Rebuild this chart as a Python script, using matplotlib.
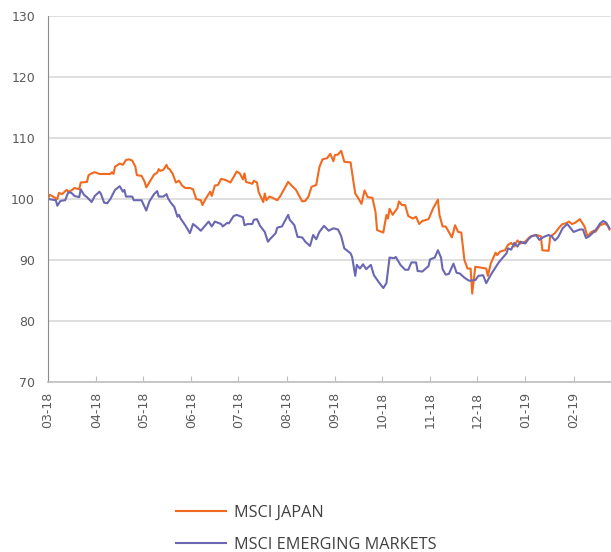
import pandas as pd
import matplotlib
matplotlib.use("Agg")
import matplotlib.pyplot as plt
import matplotlib.dates as mdates

start = pd.Timestamp("2018-03-01")

# days since 1 March 2018, index level (start = 100)
japan_days = [0, 1, 6, 7, 9, 12, 13, 15, 17, 20, 21, 25, 26, 28, 30, 33, 40, 41, 42, 43,
              46, 48, 50, 52, 54, 56, 57, 60, 62, 63, 64, 68, 70, 71, 72, 74, 76, 77, 78, 80,
              82, 84, 86, 88, 91, 93, 95, 98, 99, 101, 104, 105, 107, 109, 111, 114, 117, 121, 123, 125,
              126, 127, 131, 132, 134, 135, 138, 139, 140, 142, 144, 147, 149, 154, 157, 159, 163, 165, 167, 169,
              172, 174, 176, 179, 181, 183, 184, 186, 188, 190, 194, 195, 197, 199, 201, 203, 205, 208, 210, 211,
              215, 217, 218, 219, 221, 224, 225, 227, 229, 231, 234, 236, 238, 240, 244, 247, 250, 251, 253, 255,
              259, 261, 263, 265, 267, 269, 271, 272, 274, 281, 282, 284, 287, 288, 290, 293, 295, 297, 299, 301,
              303, 306, 309, 313, 316, 317, 321, 322, 325, 328, 330, 332, 334, 336, 338, 341, 344, 346, 348, 350,
              351, 354, 357, 359, 360]
japan = [100.0, 100.7, 100.0, 101.0, 100.8, 101.5, 101.2, 101.4, 101.8, 101.6, 102.7, 102.8, 103.9, 104.2, 104.4, 104.1, 104.1, 104.4, 104.1, 105.3,
         105.8, 105.6, 106.4, 106.5, 106.3, 105.3, 103.9, 103.8, 102.8, 101.9, 102.3, 104.0, 104.3, 104.9, 104.6, 104.8, 105.6, 105.0, 104.9, 104.1,
         102.7, 103.0, 102.2, 101.8, 101.8, 101.6, 100.0, 99.8, 99.0, 100.0, 101.2, 100.5, 102.2, 102.3, 103.3, 103.1, 102.7, 104.5, 104.2, 103.2,
         104.2, 102.8, 102.5, 103.0, 102.7, 101.2, 99.5, 100.9, 99.8, 100.4, 100.2, 99.8, 100.5, 102.8, 102.0, 101.5, 99.6, 99.7, 100.4, 102.0,
         102.3, 105.2, 106.5, 106.7, 107.4, 106.2, 107.2, 107.3, 107.9, 106.1, 106.0, 104.3, 100.9, 100.1, 99.2, 101.4, 100.3, 100.2, 97.9, 94.9,
         94.5, 97.4, 96.8, 98.4, 97.4, 98.5, 99.6, 99.0, 99.0, 97.2, 96.8, 97.1, 95.9, 96.4, 96.7, 98.5, 99.9, 97.4, 95.5, 95.5,
         93.7, 95.7, 94.6, 94.5, 90.0, 88.6, 88.6, 84.5, 88.9, 88.6, 87.4, 89.5, 91.2, 90.8, 91.4, 91.6, 92.5, 92.8, 92.2, 93.2,
         92.7, 93.0, 93.8, 94.1, 93.9, 91.6, 91.5, 93.8, 94.4, 95.4, 95.9, 96.0, 96.3, 95.9, 96.1, 96.7, 95.5, 93.8, 94.5, 94.8,
         94.6, 95.7, 96.0, 95.6, 95.0]

em_days = [0, 5, 6, 8, 11, 13, 15, 17, 20, 21, 23, 25, 28, 30, 33, 34, 36, 38, 40, 43,
           46, 48, 49, 50, 54, 55, 60, 63, 65, 68, 70, 71, 74, 76, 77, 79, 81, 83, 84, 85,
           88, 91, 93, 95, 98, 103, 105, 107, 111, 112, 115, 116, 119, 121, 125, 126, 128, 131, 132, 134,
           136, 139, 141, 143, 146, 147, 150, 154, 155, 158, 160, 163, 165, 168, 170, 172, 174, 177, 180, 183,
           186, 188, 190, 194, 195, 197, 198, 200, 202, 204, 207, 209, 212, 215, 217, 219, 222, 223, 226, 229,
           231, 233, 236, 237, 240, 244, 245, 248, 250, 252, 253, 255, 257, 260, 262, 264, 267, 270, 274, 276,
           279, 281, 284, 286, 289, 292, 294, 295, 297, 299, 301, 303, 306, 308, 310, 313, 315, 318, 321, 323,
           325, 327, 330, 333, 337, 341, 343, 345, 347, 350, 352, 354, 356, 358, 360]
em = [100.0, 99.8, 98.9, 99.7, 99.8, 101.1, 101.0, 100.5, 100.3, 101.6, 100.7, 100.3, 99.5, 100.5, 101.2, 100.8, 99.4, 99.3, 100.0, 101.5,
      102.1, 101.2, 101.5, 100.4, 100.4, 99.8, 99.8, 98.1, 99.6, 100.8, 101.3, 100.4, 100.4, 100.8, 100.1, 99.3, 98.7, 97.1, 97.4, 96.8,
      95.7, 94.4, 95.9, 95.5, 94.8, 96.3, 95.5, 96.3, 95.9, 95.5, 96.1, 96.0, 97.2, 97.4, 97.0, 95.7, 95.9, 95.9, 96.6, 96.7,
      95.6, 94.6, 93.0, 93.6, 94.4, 95.3, 95.5, 97.4, 96.6, 95.7, 93.8, 93.7, 93.0, 92.3, 94.1, 93.4, 94.6, 95.6, 94.8, 95.2,
      95.0, 93.9, 91.9, 91.1, 90.5, 87.4, 89.2, 88.6, 89.3, 88.5, 89.2, 87.5, 86.4, 85.4, 86.2, 90.4, 90.3, 90.5, 89.2, 88.4,
      88.4, 89.6, 89.6, 88.2, 88.1, 89.0, 90.1, 90.4, 91.6, 90.4, 88.5, 87.6, 87.7, 89.4, 87.9, 87.8, 87.1, 86.6, 86.7, 87.4,
      87.5, 86.2, 87.6, 88.4, 89.6, 90.5, 91.1, 91.9, 91.7, 92.8, 92.2, 93.0, 92.7, 93.4, 93.9, 94.1, 93.3, 93.8, 94.1, 93.9,
      93.2, 93.7, 95.2, 95.9, 94.6, 95.0, 95.0, 93.6, 93.9, 94.6, 95.2, 96.0, 96.4, 96.1, 95.2]

japan_dates = start + pd.to_timedelta(japan_days, unit="D")
em_dates = start + pd.to_timedelta(em_days, unit="D")

tick_months = pd.date_range("2018-03-01", "2019-02-01", freq="MS")
y_ticks = [70, 80, 90, 100, 110, 120, 130]

grey = "#595959"
fig = plt.figure(figsize=(6.11, 5.52), dpi=100)
ax = fig.add_axes([48 / 611, 1 - 382 / 552, 1 - 48 / 611, (382 - 16) / 552])

l1, = ax.plot(japan_dates, japan, color="#F26A1F", lw=1.5, label="MSCI JAPAN")
l2, = ax.plot(em_dates, em, color="#6B67B2", lw=1.5, label="MSCI EMERGING MARKETS")

ax.set_ylim(70, 130)
ax.set_yticks(y_ticks)
ax.set_xlim(start, pd.Timestamp("2019-02-25"))
ax.set_xticks(tick_months)
ax.xaxis.set_major_formatter(mdates.DateFormatter("%m-%y"))
ax.grid(axis="y", color="#D9D9D9", lw=1.2)
ax.set_axisbelow(True)

for s in ["top", "right"]:
    ax.spines[s].set_visible(False)
ax.spines["left"].set_color("#8C8C8C")
ax.spines["bottom"].set_color("#BFBFBF")
ax.spines["bottom"].set_linewidth(1.2)

ax.tick_params(axis="y", length=0, pad=9.4, labelsize=9, labelcolor=grey)
ax.tick_params(axis="x", direction="in", length=4, color="#BFBFBF", pad=7,
               labelsize=9, labelcolor=grey, labelrotation=90)

leg = fig.legend(handles=[l1, l2], loc="upper left", bbox_to_anchor=(161 / 611, 1 - 490 / 552),
                 frameon=False, handlelength=3.1, handletextpad=0.5,
                 labelspacing=1.0, prop={"family": "Open Sans", "size": 11.7})
for t in leg.get_texts():
    t.set_color("#404040")

fig.savefig("out.png", dpi=100)
